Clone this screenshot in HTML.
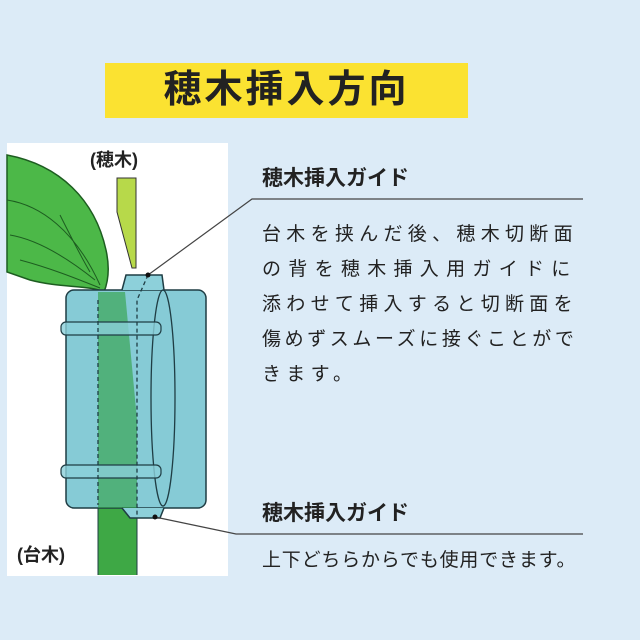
<!DOCTYPE html>
<html><head><meta charset="utf-8"><style>
body{margin:0;width:640px;height:640px;background:#dcebf7;overflow:hidden;position:relative;font-family:"Liberation Sans","Noto Sans CJK JP",sans-serif;color:#222}
.t{position:absolute;white-space:nowrap}
.b span{display:block;height:35px}
</style></head><body>
<div style="position:absolute;left:105px;top:63px;width:363px;height:55px;background:#fbe231"></div>
<div class="t" style="left:105px;top:63px;width:363px;height:55px;line-height:55px;text-align:center;font-size:38px;font-weight:bold;letter-spacing:3px;color:#222">穂木挿入方向</div>
<div style="position:absolute;left:7px;top:143px;width:221px;height:433px;background:#fff"></div>
<svg style="position:absolute;left:0;top:0" width="640" height="640">
<path d="M7,155 C60,165 95,200 106,250 C110,268 108,282 104,292 C90,285 60,288 30,280 L7,272 Z" fill="#4cb848" stroke="#1d5d20" stroke-width="1.5"/>
<path d="M7,200 C40,205 75,230 100,285 M10,235 C40,240 70,260 95,280 M60,215 C70,235 80,255 90,272 M20,260 C50,268 75,278 100,288" stroke="#1d5d20" fill="none" stroke-width="1"/>
<path d="M117,178 L136,178 L136,268 L132,268 L117,212 Z" fill="#b7d94a" stroke="#333" stroke-width="1"/>
<path d="M98,505 L137,505 L137,575 L98,575 Z" fill="#3ea845"/>
<rect x="66" y="290" width="140" height="218" rx="8" fill="#86cbd6" stroke="#1f3d44" stroke-width="1.5"/>
<path d="M122,290 L126,275 L162,275 L164,290" fill="#8dd0da" stroke="#1f3d44" stroke-width="1.5"/>
<path d="M98,292 L125,292 L137,420 L137,508 L98,508 Z" fill="#2ea040" fill-opacity="0.6"/>
<ellipse cx="163" cy="398" rx="12" ry="108" fill="none" stroke="#1f3d44" stroke-width="1.3"/>
<rect x="61" y="322" width="100" height="13" rx="5" fill="#8bd0da" fill-opacity="0.8" stroke="#1f3d44" stroke-width="1.2"/>
<rect x="61" y="465" width="100" height="13" rx="5" fill="#8bd0da" fill-opacity="0.8" stroke="#1f3d44" stroke-width="1.2"/>
<path d="M122,508 L130,518 L160,518 L164,508" fill="#8dd0da" stroke="#1f3d44" stroke-width="1.5"/>
<path d="M148,275 L137,300 L137,515 M98,300 L98,505" stroke="#1f3d44" stroke-width="1.3" stroke-dasharray="4,3" fill="none"/>
<path d="M98,508 L98,575 M137,518 L137,575" stroke="#1f3d44" stroke-width="1" fill="none"/>
<path d="M148,275 L252,199 L583,199" stroke="#444" stroke-width="1.2" fill="none"/>
<path d="M155,517 L236,534 L583,534" stroke="#444" stroke-width="1.2" fill="none"/>
<circle cx="148" cy="275" r="2.5" fill="#111"/><circle cx="155" cy="517" r="2.5" fill="#111"/>
</svg>
<div class="t" style="left:90px;top:146px;font-size:18px;font-weight:bold">(穂木)</div>
<div class="t" style="left:17px;top:541px;font-size:18px;font-weight:bold">(台木)</div>
<div class="t" style="left:262px;top:162px;font-size:21px;font-weight:bold">穂木挿入ガイド</div>
<div class="t b" style="left:262px;top:217px;font-size:19px;line-height:35px">
<span style="letter-spacing:5.3px">台木を挟んだ後、穂木切断面</span>
<span style="letter-spacing:7.3px">の背を穂木挿入用ガイドに</span>
<span style="letter-spacing:5.3px">添わせて挿入すると切断面を</span>
<span style="letter-spacing:3.6px">傷めずスムーズに接ぐことがで</span>
<span style="letter-spacing:5.3px">きます。</span></div>
<div class="t" style="left:262px;top:497px;font-size:21px;font-weight:bold">穂木挿入ガイド</div>
<div class="t" style="left:262px;top:545px;font-size:19px;letter-spacing:0.8px">上下どちらからでも使用できます。</div>
</body></html>
